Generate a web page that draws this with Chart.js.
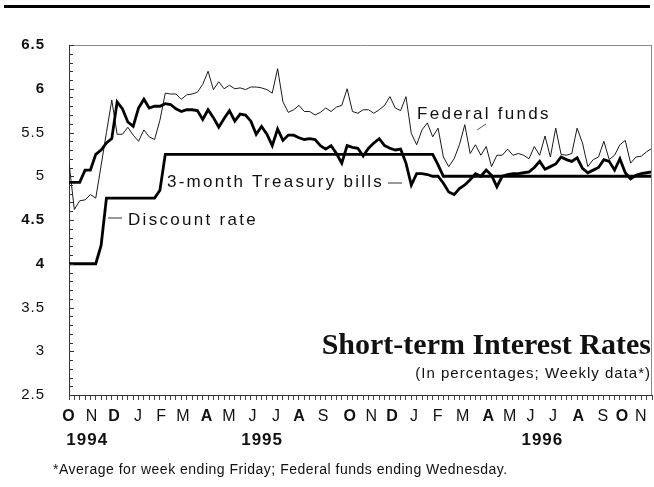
<!DOCTYPE html>
<html>
<head>
<meta charset="utf-8">
<script src="https://cdn.jsdelivr.net/npm/chart.js@4.4.1/dist/chart.umd.min.js"></script>
<style>
  html, body { margin: 0; padding: 0; background: #fff; }
  canvas { display: block; }
</style>
</head>
<body>
<canvas id="rates" width="654" height="487"></canvas>
<script>
// weekly averages, first week of Oct 1994 to early Nov 1996
const fedFunds = [
  5.15, 4.62, 4.72, 4.73, 4.79, 4.75, 5.12, 5.50, 5.87, 5.48,
  5.48, 5.56, 5.47, 5.40, 5.53, 5.45, 5.42, 5.64, 5.95, 5.94,
  5.94, 5.88, 5.93, 5.94, 5.96, 6.05, 6.20, 5.99, 6.08, 6.00,
  6.04, 6.00, 6.01, 5.99, 6.02, 6.02, 6.01, 5.99, 5.95, 6.23,
  5.85, 5.73, 5.76, 5.81, 5.74, 5.74, 5.70, 5.73, 5.78, 5.74,
  5.79, 5.81, 6.00, 5.74, 5.72, 5.76, 5.76, 5.72, 5.76, 5.81,
  5.91, 5.78, 5.75, 5.91, 5.49, 5.36, 5.53, 5.61, 5.45, 5.55,
  5.22, 5.11, 5.20, 5.36, 5.59, 5.26, 5.36, 5.24, 5.34, 5.11,
  5.24, 5.24, 5.31, 5.24, 5.26, 5.24, 5.20, 5.34, 5.24, 5.46,
  5.22, 5.55, 5.25, 5.24, 5.26, 5.55, 5.38, 5.11, 5.19, 5.22,
  5.40, 5.19, 5.24, 5.36, 5.41, 5.15, 5.22, 5.23, 5.28, 5.32
];

const treasuryBills = [
  4.93, 4.93, 4.93, 5.07, 5.07, 5.25, 5.30, 5.38, 5.43, 5.85,
  5.77, 5.62, 5.57, 5.78, 5.88, 5.78, 5.80, 5.80, 5.83, 5.82,
  5.77, 5.74, 5.76, 5.76, 5.75, 5.65, 5.76, 5.67, 5.56, 5.66,
  5.75, 5.63, 5.71, 5.70, 5.63, 5.48, 5.57, 5.48, 5.35, 5.54,
  5.41, 5.47, 5.47, 5.44, 5.42, 5.43, 5.42, 5.35, 5.31, 5.35,
  5.26, 5.15, 5.35, 5.33, 5.32, 5.23, 5.32, 5.38, 5.43, 5.35,
  5.32, 5.30, 5.31, 5.15, 4.90, 5.03, 5.03, 5.02, 5.00, 5.00,
  4.92, 4.82, 4.79, 4.86, 4.90, 4.96, 5.03, 5.00, 5.07, 5.01,
  4.88, 5.00, 5.02, 5.03, 5.03, 5.04, 5.05, 5.10, 5.17, 5.08,
  5.11, 5.14, 5.22, 5.19, 5.17, 5.21, 5.09, 5.04, 5.07, 5.10,
  5.19, 5.17, 5.07, 5.20, 5.04, 4.97, 5.01, 5.03, 5.04, 5.05
];

const discountRate = [
  4.00, 4.00, 4.00, 4.00, 4.00, 4.00, 4.21, 4.75, 4.75, 4.75,
  4.75, 4.75, 4.75, 4.75, 4.75, 4.75, 4.75, 4.84, 5.25, 5.25,
  5.25, 5.25, 5.25, 5.25, 5.25, 5.25, 5.25, 5.25, 5.25, 5.25,
  5.25, 5.25, 5.25, 5.25, 5.25, 5.25, 5.25, 5.25, 5.25, 5.25,
  5.25, 5.25, 5.25, 5.25, 5.25, 5.25, 5.25, 5.25, 5.25, 5.25,
  5.25, 5.25, 5.25, 5.25, 5.25, 5.25, 5.25, 5.25, 5.25, 5.25,
  5.25, 5.25, 5.25, 5.25, 5.25, 5.25, 5.25, 5.25, 5.25, 5.13,
  5.00, 5.00, 5.00, 5.00, 5.00, 5.00, 5.00, 5.00, 5.00, 5.00,
  5.00, 5.00, 5.00, 5.00, 5.00, 5.00, 5.00, 5.00, 5.00, 5.00,
  5.00, 5.00, 5.00, 5.00, 5.00, 5.00, 5.00, 5.00, 5.00, 5.00,
  5.00, 5.00, 5.00, 5.00, 5.00, 5.00, 5.00, 5.00, 5.00, 5.00
];

const yTicks = [2.5, 3, 3.5, 4, 4.5, 5, 5.5, 6, 6.5];
const yTickLabels = ["2.5", "3", "3.5", "4", "4.5", "5", "5.5", "6", "6.5"];
const yBold = ["6.5", "6", "4.5", "4"];

// month initials, placed in weeks from the left edge
const monthLabels = ["O", "N", "D", "J", "F", "M", "A", "M", "J", "J", "A", "S",
                     "O", "N", "D", "J", "F", "M", "A", "M", "J", "J", "A", "S", "O", "N"];
const monthTicks = [0, 4.3, 8.5, 13.0, 17.3, 21.4, 25.8, 30.0, 34.4, 38.8, 43.1, 47.6,
                    52.6, 56.6, 60.5, 64.6, 69.0, 73.7, 78.5, 82.5, 86.4, 90.6, 95.3, 99.9, 103.5, 107.0];
const monthBold = ["O", "D", "A"];
const yearLabels = ["1994", "1995", "1996"];
const yearTicks = [3.4, 36.1, 88.5];

const weekCount = fedFunds.length;
const FONT = '"Liberation Sans", Arial, Helvetica, sans-serif';
const INK = "#111";

const toPoints = (arr) => arr.map((v, i) => ({ x: i, y: v }));

function text(ctx, str, x, y, font, align, spacing) {
  ctx.save();
  ctx.font = font;
  ctx.fillStyle = INK;
  ctx.textAlign = align || "left";
  ctx.textBaseline = "alphabetic";
  ctx.letterSpacing = spacing || "0px";
  ctx.fillText(str, x, y);
  ctx.restore();
}

function rule(ctx, x1, y1, x2, y2, color, width) {
  ctx.save();
  ctx.strokeStyle = color;
  ctx.lineWidth = width;
  ctx.beginPath();
  ctx.moveTo(x1, y1);
  ctx.lineTo(x2, y2);
  ctx.stroke();
  ctx.restore();
}

const decor = {
  id: "decor",
  beforeDraw(chart) {
    chart.ctx.letterSpacing = "1px";
  },
  afterDraw(chart) {
    const ctx = chart.ctx;
    const area = chart.chartArea;
    const y = chart.scales.y;

    // heavy rule across the top
    ctx.save();
    ctx.fillStyle = "#000";
    ctx.fillRect(4, 5, 646, 3);
    ctx.restore();

    // grey frame on top and right of the plot
    rule(ctx, area.left, area.top + 0.5, area.right, area.top + 0.5, "#8a8a8a", 1);
    rule(ctx, area.right - 0.5, area.top, area.right - 0.5, area.bottom, "#8a8a8a", 1);

    // tick marks inside the left axis, every 0.1
    for (let i = 0; i <= 40; i++) {
      const py = Math.round(y.getPixelForValue(2.5 + i / 10)) + 0.5;
      const len = i % 5 === 0 ? 5 : 4;
      rule(ctx, area.left, py, area.left + len, py, "#333", 1);
    }

    // series labels
    const lf = "17px " + FONT;
    text(ctx, "Federal funds", 417, 119, lf, "left", "2.3px");
    rule(ctx, 477, 130, 486, 124, "#555", 1);
    text(ctx, "3-month Treasury bills", 167, 187, lf, "left", "2.25px");
    rule(ctx, 388, 183, 402, 183, "#777", 1.5);
    rule(ctx, 108, 218, 122, 218, "#777", 1.5);
    text(ctx, "Discount rate", 128, 225, lf, "left", "2.3px");

    // title block
    text(ctx, "Short-term Interest Rates", 651, 354, "bold 30px \"Liberation Serif\", \"Times New Roman\", serif", "right", "0px");
    text(ctx, "(In percentages; Weekly data*)", 651, 378, "15px " + FONT, "right", "1px");

    text(ctx, "*Average for week ending Friday; Federal funds ending Wednesday.", 53, 474, "14px " + FONT, "left", "0.5px");
  }
};

new Chart(document.getElementById("rates"), {
  type: "line",
  data: {
    datasets: [
      {
        label: "3-month Treasury bills",
        data: toPoints(treasuryBills),
        borderColor: "#000",
        borderWidth: 2.8,
        pointRadius: 0,
        tension: 0
      },
      {
        label: "Discount rate",
        data: toPoints(discountRate),
        borderColor: "#000",
        borderWidth: 2.8,
        pointRadius: 0,
        tension: 0
      },
      {
        label: "Federal funds",
        data: toPoints(fedFunds),
        borderColor: "#1a1a1a",
        borderWidth: 1,
        pointRadius: 0,
        tension: 0
      }
    ]
  },
  options: {
    responsive: false,
    animation: false,
    devicePixelRatio: 1,
    layout: { padding: { left: 0, right: 2, top: 45, bottom: 39 } },
    plugins: {
      legend: { display: false },
      tooltip: { enabled: false }
    },
    scales: {
      x: {
        type: "linear",
        position: "bottom",
        weight: 0,
        min: 0,
        max: weekCount - 1,
        afterBuildTicks: (axis) => {
          axis.ticks = fedFunds.map((v, i) => ({ value: i }));
        },
        afterFit: (axis) => { axis.height = 6; },
        ticks: { display: false, autoSkip: false },
        grid: { display: true, drawOnChartArea: false, drawTicks: true, tickLength: 5, color: "#444", lineWidth: 1 },
        border: { display: true, color: "#333", width: 1 }
      },
      months: {
        type: "linear",
        position: "bottom",
        weight: 1,
        min: 0,
        max: weekCount - 1,
        afterBuildTicks: (axis) => {
          axis.ticks = monthTicks.map((v) => ({ value: v }));
        },
        afterFit: (axis) => { axis.height = 25; },
        ticks: {
          autoSkip: false,
          maxRotation: 0,
          padding: 6,
          color: INK,
          font: (c) => ({
            family: FONT,
            size: 16,
            weight: monthBold.includes(monthLabels[c.index]) ? "bold" : "normal"
          }),
          callback: (value, index) => monthLabels[index]
        },
        grid: { display: false, drawTicks: false },
        border: { display: false }
      },
      years: {
        type: "linear",
        position: "bottom",
        weight: 2,
        min: 0,
        max: weekCount - 1,
        afterBuildTicks: (axis) => {
          axis.ticks = yearTicks.map((v) => ({ value: v }));
        },
        afterFit: (axis) => { axis.height = 22; },
        ticks: {
          autoSkip: false,
          maxRotation: 0,
          padding: 4,
          color: INK,
          font: { family: FONT, size: 17, weight: "bold" },
          callback: (value, index) => yearLabels[index]
        },
        grid: { display: false, drawTicks: false },
        border: { display: false }
      },
      y: {
        type: "linear",
        position: "left",
        min: 2.5,
        max: 6.5,
        afterBuildTicks: (axis) => {
          axis.ticks = yTicks.map((v) => ({ value: v }));
        },
        afterFit: (axis) => { axis.width = 69; },
        ticks: {
          padding: 24,
          color: INK,
          font: (c) => ({
            family: FONT,
            size: 15,
            weight: yBold.includes(yTickLabels[c.index]) ? "bold" : "normal"
          }),
          callback: (value, index) => yTickLabels[index]
        },
        grid: { display: false, drawTicks: false },
        border: { display: true, color: "#333", width: 1 }
      }
    }
  },
  plugins: [decor]
});
</script>
</body>
</html>
